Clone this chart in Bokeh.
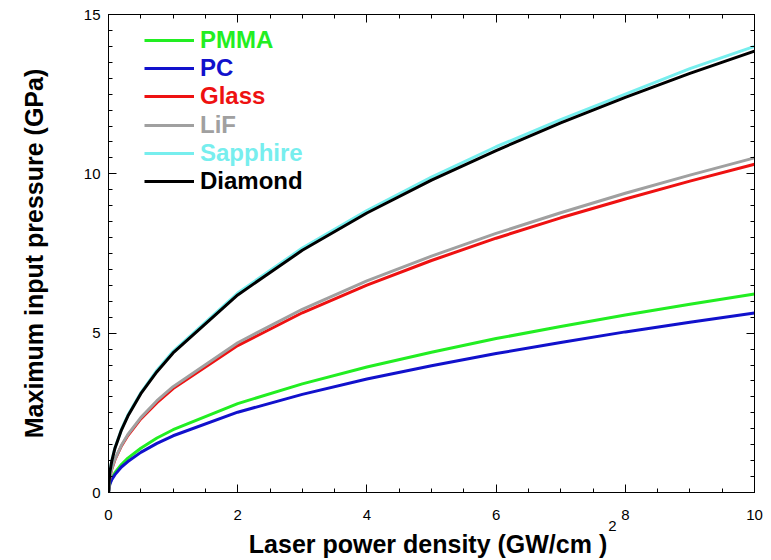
from bokeh.plotting import figure
from bokeh.models import (LinearAxis, SingleIntervalTicker, FixedTicker, Legend,
                          LegendItem, Range1d, CustomJSTickFormatter)
from bokeh.embed import file_html
from bokeh.resources import INLINE

# Laser power density (GW/cm^2)
power = [0, 0.02, 0.05, 0.1, 0.2, 0.3, 0.5, 0.75, 1, 2, 3, 4, 5, 6, 7, 8, 9, 10]

# Maximum input pressure (GPa) for each confining material
pmma = [0, 0.28, 0.44, 0.62, 0.88, 1.08, 1.39, 1.71, 1.97, 2.79, 3.41, 3.94, 4.40, 4.83, 5.21, 5.57, 5.91, 6.23]
pc = [0, 0.25, 0.40, 0.56, 0.80, 0.97, 1.26, 1.54, 1.78, 2.52, 3.08, 3.56, 3.98, 4.36, 4.71, 5.04, 5.34, 5.63]
glass = [0, 0.46, 0.73, 1.03, 1.46, 1.79, 2.31, 2.82, 3.26, 4.61, 5.64, 6.51, 7.28, 7.98, 8.62, 9.21, 9.77, 10.30]
lif = [0, 0.47, 0.74, 1.05, 1.48, 1.82, 2.35, 2.88, 3.32, 4.70, 5.75, 6.64, 7.42, 8.13, 8.78, 9.39, 9.96, 10.50]
sapphire = [0, 0.63, 0.99, 1.40, 1.98, 2.43, 3.13, 3.84, 4.43, 6.26, 7.67, 8.85, 9.90, 10.85, 11.70, 12.50, 13.30, 14.00]
diamond = [0, 0.62, 0.98, 1.39, 1.96, 2.40, 3.10, 3.79, 4.38, 6.20, 7.60, 8.77, 9.80, 10.73, 11.60, 12.40, 13.15, 13.85]

names = ["PMMA", "PC", "Glass", "LiF", "Sapphire", "Diamond"]
series = [pmma, pc, glass, lif, sapphire, diamond]
colors = ["#22ee22", "#1111cc", "#ee1111", "#a0a0a0", "#77eeee", "#000000"]

x_title = "Laser power density (GW/cm  )"
x_title_sup = "2"
y_title = "Maximum input pressure (GPa)"

FONT = "Liberation Sans"

p = figure(width=771, height=560, output_backend="svg", toolbar_location=None,
           x_range=Range1d(0, 10), y_range=Range1d(0, 15),
           min_border_left=108, min_border_right=17, min_border_top=14,
           min_border_bottom=10)
p.xgrid.visible = False
p.ygrid.visible = False
p.outline_line_color = "black"
p.outline_line_width = 1
p.background_fill_color = "white"
p.border_fill_color = "white"


def style_axis(ax, show_labels):
    ax.axis_line_color = "black"
    ax.axis_line_width = 1
    ax.major_tick_in = 8
    ax.major_tick_out = 0
    ax.minor_tick_in = 4
    ax.minor_tick_out = 0
    ax.major_tick_line_color = "black"
    ax.minor_tick_line_color = "black"
    if show_labels:
        ax.major_label_text_font = FONT
        ax.major_label_text_font_size = "15px"
        ax.major_label_text_color = "black"
    else:
        ax.formatter = CustomJSTickFormatter(code="return ''")
        ax.major_label_standoff = 0


p.xaxis.ticker = SingleIntervalTicker(interval=2, num_minor_ticks=4)
p.yaxis.ticker = SingleIntervalTicker(interval=5, num_minor_ticks=10)
style_axis(p.xaxis[0], True)
style_axis(p.yaxis[0], True)
p.xaxis.major_label_standoff = 17
p.yaxis.major_label_standoff = 8

p.yaxis.axis_label = y_title
p.yaxis.axis_label_text_font = FONT
p.yaxis.axis_label_text_font_style = "bold"
p.yaxis.axis_label_text_font_size = "25px"
p.yaxis.axis_label_text_color = "black"
p.yaxis.axis_label_standoff = 33

top_axis = LinearAxis(ticker=SingleIntervalTicker(interval=2, num_minor_ticks=4))
right_axis = LinearAxis(ticker=SingleIntervalTicker(interval=5, num_minor_ticks=10))
style_axis(top_axis, False)
style_axis(right_axis, False)
p.add_layout(top_axis, "above")
p.add_layout(right_axis, "right")

# bare axis under the tick labels: carries the unit exponent and the x title
title_axis = LinearAxis(ticker=FixedTicker(ticks=[7.8], minor_ticks=[]),
                        formatter=CustomJSTickFormatter(code="return '%s'" % x_title_sup),
                        axis_label=x_title)
title_axis.axis_line_color = None
title_axis.major_tick_line_color = None
title_axis.minor_tick_line_color = None
title_axis.major_tick_in = 0
title_axis.major_tick_out = 0
title_axis.minor_tick_in = 0
title_axis.minor_tick_out = 0
title_axis.major_label_text_font = FONT
title_axis.major_label_text_font_size = "15px"
title_axis.major_label_text_color = "black"
title_axis.major_label_standoff = -2
title_axis.axis_label_text_font = FONT
title_axis.axis_label_text_font_style = "bold"
title_axis.axis_label_text_font_size = "25px"
title_axis.axis_label_text_color = "black"
title_axis.axis_label_standoff = -4
p.add_layout(title_axis, "below")

renderers = []
for name, vals, col in zip(names, series, colors):
    r = p.line(power, vals, line_color=col, line_width=3)
    renderers.append(r)

# one legend block per material so each label takes its line colour
row_top = 26
row_step = 28.2
frame_h = 491 - 14
for i, (name, r, col) in enumerate(zip(names, renderers, colors)):
    cy = row_top + i * row_step
    leg = Legend(items=[LegendItem(label=name, renderers=[r])],
                 location=(36, frame_h - cy - 13),
                 orientation="vertical",
                 label_text_color=col,
                 label_text_font=FONT,
                 label_text_font_style="bold",
                 label_text_font_size="24px",
                 label_standoff=6,
                 label_height=26,
                 glyph_width=50,
                 glyph_height=26,
                 padding=0, margin=0, spacing=0,
                 background_fill_alpha=0,
                 border_line_alpha=0)
    p.add_layout(leg)

open("out.html", "w").write(file_html(p, INLINE))
